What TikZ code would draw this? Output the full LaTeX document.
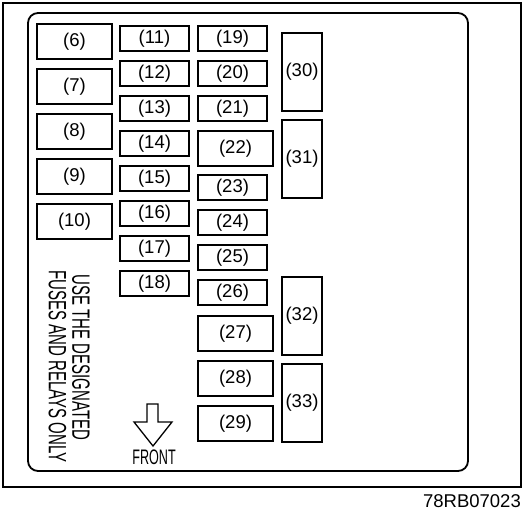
\documentclass[tikz,border=0pt]{standalone}
\usepackage{fontspec}
\setmainfont{Liberation Sans}
\newfontfamily\narrowfont[FakeStretch=0.6]{Liberation Sans}
\usetikzlibrary{positioning}

\begin{document}
\begin{tikzpicture}[
  x=1pt, y=-1pt,
  node distance=10pt,
  box/.style={draw, rectangle, line width=1.8pt, inner sep=0pt, outer sep=0pt, font=\fontsize{18.5}{18.5}\selectfont},
  fuse/.style={box, minimum width=69pt, minimum height=25pt},
  relay/.style={box, minimum width=75pt, minimum height=35pt},
  tallrelay/.style={box, minimum width=40pt, minimum height=78pt},
  note/.style={font=\narrowfont\fontsize{25}{25}\selectfont, rotate=-90, inner sep=0pt}
]
  \useasboundingbox (0,0) rectangle (526,512);

  % Frames
  \draw[line width=1.3pt] (3,3) rectangle (521,487);
  \draw[line width=1.8pt, rounded corners=10pt] (28,13) rectangle (468,471);

  % Left column
  \node[relay, anchor=north west] (r6) at (37,24) {(6)};
  \node[relay, below=of r6] (r7) {(7)};
  \node[relay, below=of r7] (r8) {(8)};
  \node[relay, below=of r8] (r9) {(9)};
  \node[relay, below=of r9] (r10) {(10)};

  % Second column
  \node[fuse, anchor=north west] (f11) at (120,26) {(11)};
  \node[fuse, below=of f11] (f12) {(12)};
  \node[fuse, below=of f12] (f13) {(13)};
  \node[fuse, below=of f13] (f14) {(14)};
  \node[fuse, below=of f14] (f15) {(15)};
  \node[fuse, below=of f15] (f16) {(16)};
  \node[fuse, below=of f16] (f17) {(17)};
  \node[fuse, below=of f17] (f18) {(18)};

  % Third column
  \node[fuse, anchor=north west] (f19) at (198,26) {(19)};
  \node[fuse, anchor=north west] (f20) at (198,61) {(20)};
  \node[fuse, anchor=north west] (f21) at (198,96) {(21)};
  \node[relay, anchor=north west] (r22) at (198,131) {(22)};
  \node[fuse, anchor=north west] (f23) at (198,175) {(23)};
  \node[fuse, anchor=north west] (f24) at (198,210) {(24)};
  \node[fuse, anchor=north west] (f25) at (198,245) {(25)};
  \node[fuse, anchor=north west] (f26) at (198,280) {(26)};
  \node[relay, anchor=north west] (r27) at (198,316) {(27)};
  \node[relay, anchor=north west] (r28) at (198,361) {(28)};
  \node[relay, anchor=north west] (r29) at (198,406) {(29)};

  % Right column
  \node[tallrelay, anchor=north west] (r30) at (282,33) {(30)};
  \node[tallrelay, anchor=north west] (r31) at (282,120) {(31)};
  \node[tallrelay, anchor=north west] (r32) at (282,277) {(32)};
  \node[tallrelay, anchor=north west] (r33) at (282,364) {(33)};

  % Notes
  \node[note] (use) at (81,357.5) {USE THE DESIGNATED};
  \node[note] (fuses) at (57.5,366.5) {FUSES AND RELAYS ONLY};

  % Front arrow
  \node[inner sep=0pt, font=\narrowfont\fontsize{21}{21}\selectfont] (front) at (154,457.5) {FRONT};
  \draw[line width=1.3pt] (147,404) -- (158,404) -- (158,422) -- (172,422)
    -- (153,446) -- (134,422) -- (147,422) -- cycle;

  \node[inner sep=0pt, anchor=east, font=\fontsize{18.5}{18.5}\selectfont] (code) at (521,501.5) {78RB07023};
\end{tikzpicture}
\end{document}
